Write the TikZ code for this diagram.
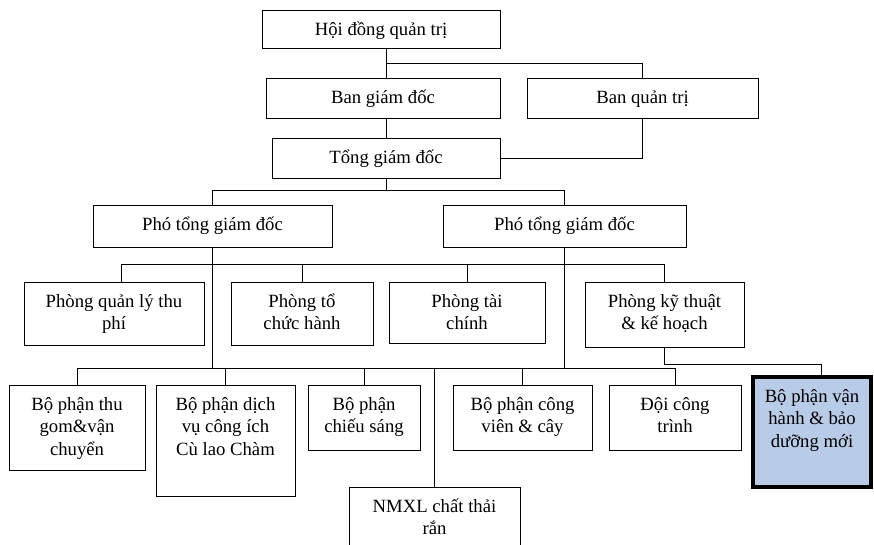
\documentclass[tikz,border=0pt]{standalone}
\usepackage{fontspec}
\setmainfont{Liberation Serif}
\usetikzlibrary{backgrounds}
\definecolor{boxblue}{RGB}{184,204,232}
\tikzset{
  obox/.style={draw=black,fill=white,line width=1pt,inner sep=0pt,font=\fontsize{18.7}{22.5}\selectfont},
  conn/.style={draw=black,line width=1pt},
  hlbox/.style={fill=boxblue,line width=4pt}
}
\newcommand{\orgbox}[7][]{%
  \node[obox,#1,minimum width={(#5)-(#3)},minimum height={(#6)-(#4)}] (#2)
    at ({((#3)+(#5))/2},{((#4)+(#6))/2})
    {\parbox[c][\dimexpr #6pt-#4pt\relax][t]{\dimexpr #5pt-#3pt-6pt\relax}{\centering\vspace*{9.5pt}\strut #7}};}
\begin{document}
\begin{tikzpicture}[x=1pt,y=-1pt]
\useasboundingbox (0,0) rectangle (874,544);
\begin{scope}
\clip (0,0) rectangle (874,544);
\orgbox{hdqt}{262}{10}{500}{48}{Hội đồng quản trị}
\orgbox{bgd}{266}{78}{500}{118}{Ban giám đốc}
\orgbox{bqt}{527}{78}{758}{118}{Ban quản trị}
\orgbox{tgd}{272}{138}{500}{178}{Tổng giám đốc}
\orgbox{ptgd1}{93}{205}{332}{247}{Phó tổng giám đốc}
\orgbox{ptgd2}{443}{205}{686}{247}{Phó tổng giám đốc}
\orgbox{p1}{24}{282}{204}{345}{Phòng quản lý thu\\phí}
\orgbox{p2}{231}{282}{373}{345}{Phòng tổ\\chức hành}
\orgbox{p3}{389}{282}{545}{343}{Phòng tài\\chính}
\orgbox{p4}{585}{282}{744}{347}{Phòng kỹ thuật\\\& kế hoạch}
\orgbox{b1}{9}{385}{145}{470}{Bộ phận thu\\gom\&vận\\chuyển}
\orgbox{b2}{156}{385}{295}{496}{Bộ phận dịch\\vụ công ích\\Cù lao Chàm}
\orgbox{b3}{308}{385}{420}{450}{Bộ phận\\chiếu sáng}
\orgbox{nmxl}{349}{487}{520}{560}{NMXL chất thải\\rắn}
\orgbox{b5}{453}{385}{592}{450}{Bộ phận công\\viên \& cây}
\orgbox{b6}{609}{385}{741}{450}{Đội công\\trình}
\orgbox[hlbox]{vh}{753}{377}{871}{487}{Bộ phận vận\\hành \& bảo\\dưỡng mới}
\end{scope}
\begin{scope}[on background layer]
\draw[conn] (hdqt.south -| tgd) -- (bgd.north -| tgd);
\draw[conn] (tgd |- 0,63) -| (bqt.north);
\draw[conn] (bgd.south -| tgd) -- (tgd.north);
\draw[conn] (bqt.south) |- (tgd.east);
\draw[conn] (tgd.south) -- (tgd |- 0,190);
\draw[conn] (ptgd1 |- 0,190) -- (ptgd2 |- 0,190);
\draw[conn] (ptgd1 |- 0,190) -- (ptgd1.north);
\draw[conn] (ptgd2 |- 0,190) -- (ptgd2.north);
\draw[conn] (ptgd1.south) -- (ptgd1 |- 0,368);
\draw[conn] (ptgd2.south) -- (ptgd2 |- 0,368);
\draw[conn] ([xshift=7pt]p1.north |- 0,264) -- (p4 |- 0,264);
\draw[conn] ([xshift=7pt]p1.north |- 0,264) -- ([xshift=7pt]p1.north);
\foreach \n in {p2,p3,p4} \draw[conn] (\n |- 0,264) -- (\n.north);
\draw[conn] (b1 |- 0,368) -- (b6 |- 0,368);
\foreach \n in {b1,b2,b3,nmxl,b5,b6} \draw[conn] (\n |- 0,368) -- (\n.north);
\draw[conn] (p4.south) -- (p4 |- 0,364) -| ([xshift=9pt]vh.north);
\end{scope}
\end{tikzpicture}
\end{document}
